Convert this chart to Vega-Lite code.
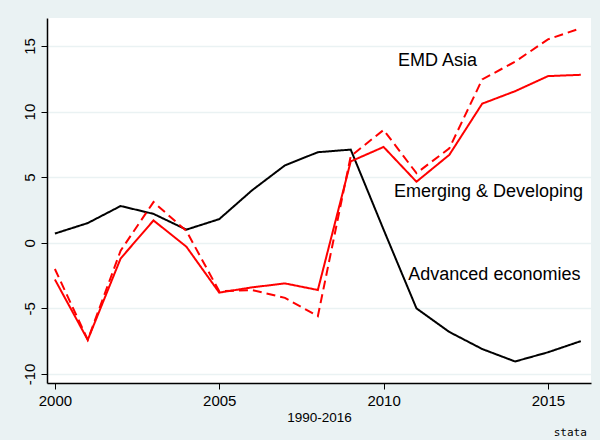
{
  "$schema": "https://vega.github.io/schema/vega-lite/v6.json",
  "autosize": {"type": "none"},
  "width": 544,
  "height": 365,
  "padding": {"left": 47, "top": 18, "right": 9, "bottom": 57},
  "background": "#eaf2f3",
  "config": {
    "view": {"stroke": null, "fill": "#ffffff"},
    "font": "Liberation Sans"
  },
  "datasets": {
    "series": [
      {"year": 2000, "series": "Advanced economies", "value": 0.7},
      {"year": 2001, "series": "Advanced economies", "value": 1.5},
      {"year": 2002, "series": "Advanced economies", "value": 2.8},
      {"year": 2003, "series": "Advanced economies", "value": 2.2},
      {"year": 2004, "series": "Advanced economies", "value": 1.0},
      {"year": 2005, "series": "Advanced economies", "value": 1.8},
      {"year": 2006, "series": "Advanced economies", "value": 4.0},
      {"year": 2007, "series": "Advanced economies", "value": 5.9},
      {"year": 2008, "series": "Advanced economies", "value": 6.9},
      {"year": 2009, "series": "Advanced economies", "value": 7.1},
      {"year": 2010, "series": "Advanced economies", "value": 1.0},
      {"year": 2011, "series": "Advanced economies", "value": -5.0},
      {"year": 2012, "series": "Advanced economies", "value": -6.8},
      {"year": 2013, "series": "Advanced economies", "value": -8.1},
      {"year": 2014, "series": "Advanced economies", "value": -9.05},
      {"year": 2015, "series": "Advanced economies", "value": -8.35},
      {"year": 2016, "series": "Advanced economies", "value": -7.5},
      {"year": 2000, "series": "Emerging & Developing", "value": -2.8},
      {"year": 2001, "series": "Emerging & Developing", "value": -7.4},
      {"year": 2002, "series": "Emerging & Developing", "value": -1.2},
      {"year": 2003, "series": "Emerging & Developing", "value": 1.7},
      {"year": 2004, "series": "Emerging & Developing", "value": -0.3},
      {"year": 2005, "series": "Emerging & Developing", "value": -3.8},
      {"year": 2006, "series": "Emerging & Developing", "value": -3.4},
      {"year": 2007, "series": "Emerging & Developing", "value": -3.1},
      {"year": 2008, "series": "Emerging & Developing", "value": -3.6},
      {"year": 2009, "series": "Emerging & Developing", "value": 6.2},
      {"year": 2010, "series": "Emerging & Developing", "value": 7.3},
      {"year": 2011, "series": "Emerging & Developing", "value": 4.65},
      {"year": 2012, "series": "Emerging & Developing", "value": 6.7},
      {"year": 2013, "series": "Emerging & Developing", "value": 10.6},
      {"year": 2014, "series": "Emerging & Developing", "value": 11.55},
      {"year": 2015, "series": "Emerging & Developing", "value": 12.7},
      {"year": 2016, "series": "Emerging & Developing", "value": 12.8},
      {"year": 2000, "series": "EMD Asia", "value": -2.0},
      {"year": 2001, "series": "EMD Asia", "value": -7.4},
      {"year": 2002, "series": "EMD Asia", "value": -0.6},
      {"year": 2003, "series": "EMD Asia", "value": 3.1},
      {"year": 2004, "series": "EMD Asia", "value": 0.9},
      {"year": 2005, "series": "EMD Asia", "value": -3.7},
      {"year": 2006, "series": "EMD Asia", "value": -3.6},
      {"year": 2007, "series": "EMD Asia", "value": -4.2},
      {"year": 2008, "series": "EMD Asia", "value": -5.6},
      {"year": 2009, "series": "EMD Asia", "value": 6.6},
      {"year": 2010, "series": "EMD Asia", "value": 8.6},
      {"year": 2011, "series": "EMD Asia", "value": 5.3},
      {"year": 2012, "series": "EMD Asia", "value": 7.2},
      {"year": 2013, "series": "EMD Asia", "value": 12.45},
      {"year": 2014, "series": "EMD Asia", "value": 13.8},
      {"year": 2015, "series": "EMD Asia", "value": 15.5},
      {"year": 2016, "series": "EMD Asia", "value": 16.35}
    ],
    "labels": [
      {"year": 2011.64, "value": 13.86, "label": "EMD Asia"},
      {"year": 2013.19, "value": 3.87, "label": "Emerging & Developing"},
      {"year": 2013.37, "value": -2.45, "label": "Advanced economies"}
    ],
    "logo": [
      {"year": 2015.68, "value": -14.5, "label": "stata"}
    ]
  },
  "layer": [
    {
      "data": {"name": "series"},
      "mark": {"type": "line", "strokeWidth": 2, "strokeJoin": "miter"},
      "encoding": {
        "x": {
          "field": "year", "type": "quantitative",
          "scale": {"domain": [1999.76, 2016.31], "nice": false, "zero": false},
          "axis": {
            "values": [2000, 2005, 2010, 2015], "format": "d",
            "grid": false, "domainColor": "#000000", "domainWidth": 1.5,
            "tickColor": "#000000", "tickSize": 6, "tickWidth": 1,
            "labelColor": "#000000", "labelFontSize": 15, "labelPadding": 4,
            "title": "1990-2016", "titleFontSize": 13.5, "titleFontWeight": "normal",
            "titleColor": "#000000", "titlePadding": 2
          }
        },
        "y": {
          "field": "value", "type": "quantitative",
          "scale": {"domain": [-10.69, 17.13], "nice": false, "zero": false},
          "axis": {
            "values": [-10, -5, 0, 5, 10, 15],
            "labelExpr": "toString(datum.value)",
            "grid": true, "gridColor": "#eaf2f3", "gridWidth": 1.5,
            "domainColor": "#000000", "domainWidth": 1.5,
            "tickColor": "#000000", "tickSize": 6, "tickWidth": 1,
            "labelColor": "#000000", "labelFontSize": 15, "labelAngle": -90,
            "labelPadding": 4, "title": null
          }
        },
        "detail": {"field": "series"},
        "color": {
          "field": "series", "type": "nominal",
          "scale": {"domain": ["Advanced economies", "Emerging & Developing", "EMD Asia"], "range": ["#000000", "#ff0000", "#ff0000"]},
          "legend": null
        },
        "strokeDash": {
          "field": "series", "type": "nominal",
          "scale": {"domain": ["Advanced economies", "Emerging & Developing", "EMD Asia"], "range": [[1, 0], [1, 0], [9, 5]]},
          "legend": null
        }
      }
    },
    {
      "data": {"name": "labels"},
      "mark": {"type": "text", "fontSize": 18, "color": "#000000", "align": "center", "baseline": "middle"},
      "encoding": {
        "x": {"field": "year", "type": "quantitative"},
        "y": {"field": "value", "type": "quantitative"},
        "text": {"field": "label"}
      }
    },
    {
      "data": {"name": "logo"},
      "mark": {"type": "text", "fontSize": 11, "color": "#000000", "align": "center", "baseline": "middle", "clip": false, "font": "DejaVu Sans Mono"},
      "encoding": {
        "x": {"field": "year", "type": "quantitative"},
        "y": {"field": "value", "type": "quantitative"},
        "text": {"field": "label"}
      }
    }
  ]
}
